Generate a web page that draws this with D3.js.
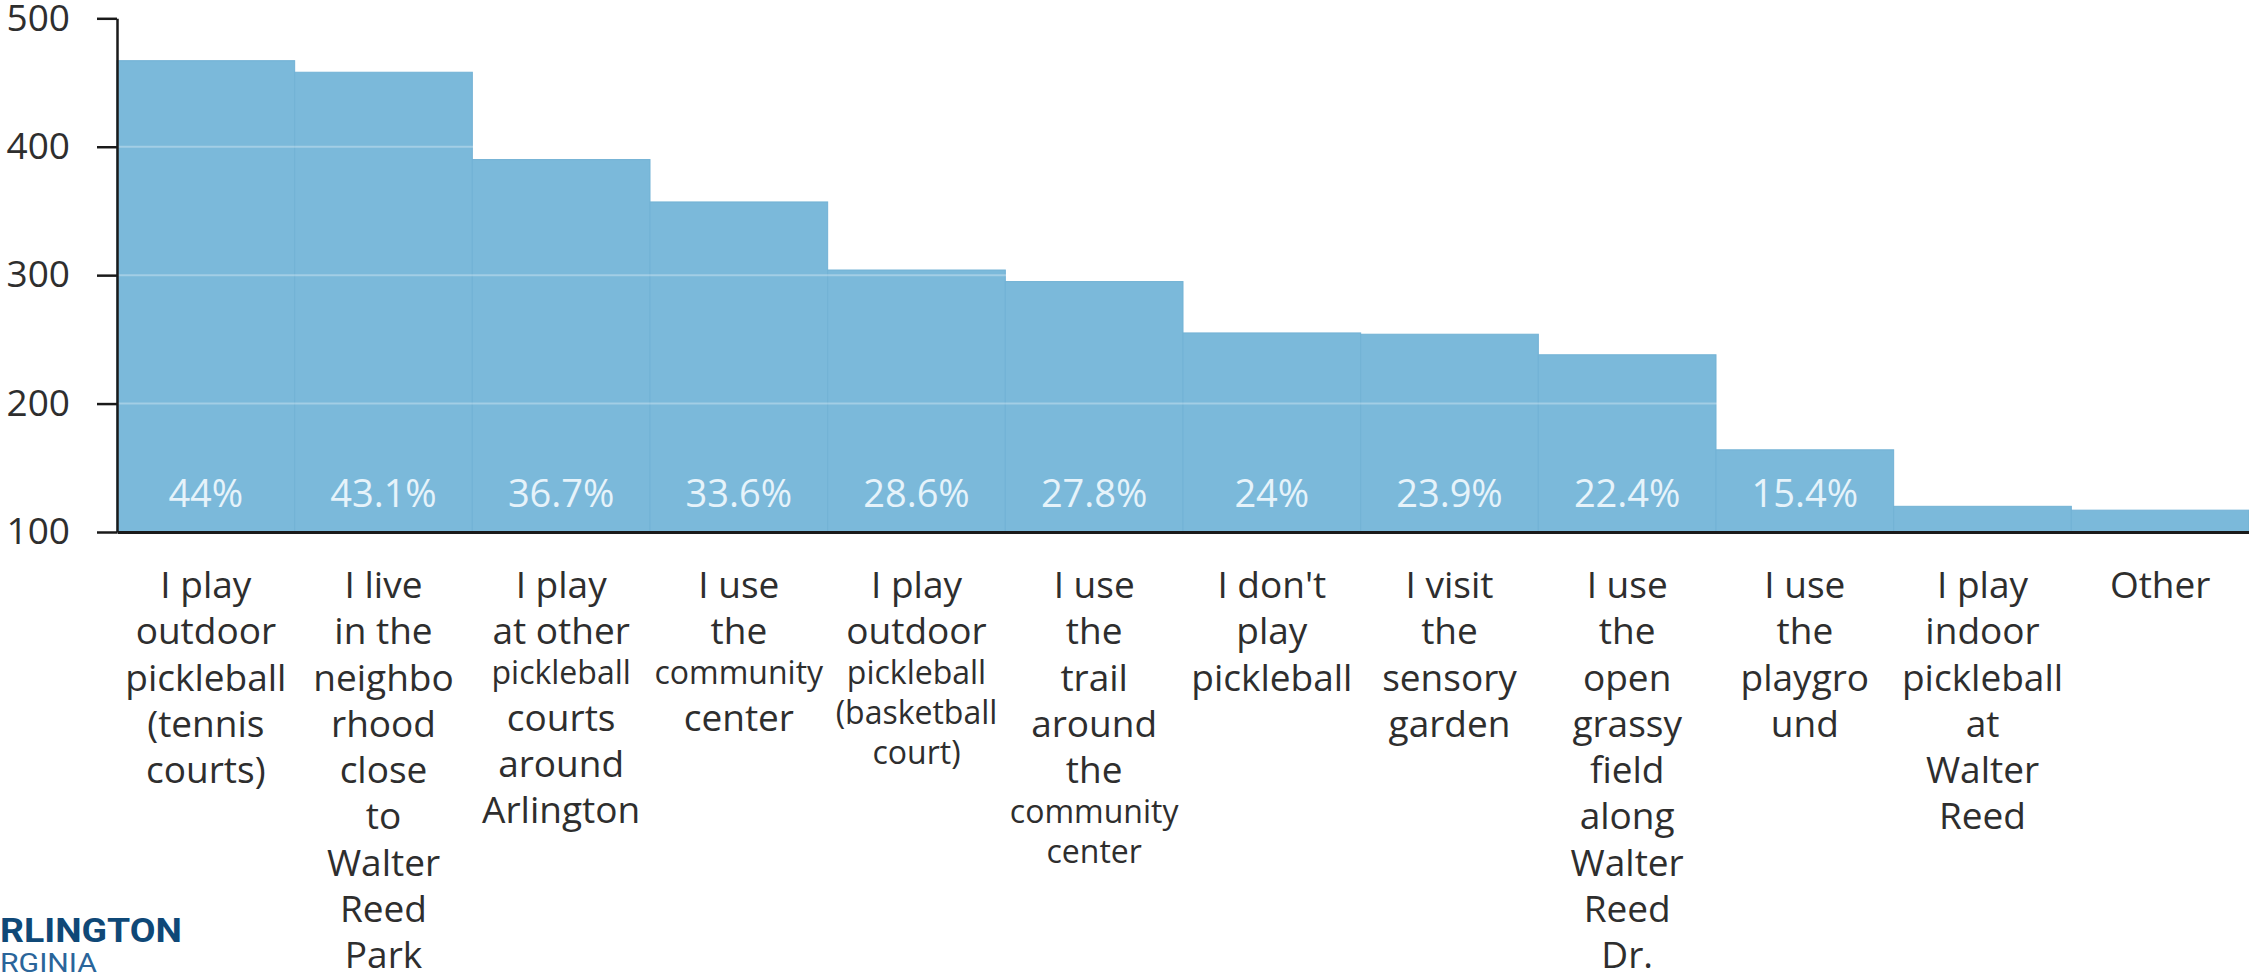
<!DOCTYPE html>
<html>
<head>
<meta charset="utf-8">
<script src="https://cdn.jsdelivr.net/npm/d3@7"></script>
<style>
  body { margin: 0; background: #fff; overflow: hidden; }
  svg text { font-family: "Open Sans", sans-serif; }
</style>
</head>
<body>
<div class="chart"></div>
<script>
// survey answers, in the order of the bars
const categories = [
  "I play outdoor pickleball (tennis courts)",
  "I live in the neighborhood close to Walter Reed Park",
  "I play at other pickleball courts around Arlington",
  "I use the community center",
  "I play outdoor pickleball (basketball court)",
  "I use the trail around the community center",
  "I don't play pickleball",
  "I visit the sensory garden",
  "I use the open grassy field along Walter Reed Dr.",
  "I use the playground",
  "I play indoor pickleball at Walter Reed",
  "Other"
];

// how each answer is broken over lines under the axis
const labelLines = [
  ["I play", "outdoor", "pickleball", "(tennis", "courts)"],
  ["I live", "in the", "neighbo", "rhood", "close", "to", "Walter", "Reed", "Park"],
  ["I play", "at other", "pickleball", "courts", "around", "Arlington"],
  ["I use", "the", "community", "center"],
  ["I play", "outdoor", "pickleball", "(basketball", "court)"],
  ["I use", "the", "trail", "around", "the", "community", "center"],
  ["I don't", "play", "pickleball"],
  ["I visit", "the", "sensory", "garden"],
  ["I use", "the", "open", "grassy", "field", "along", "Walter", "Reed", "Dr."],
  ["I use", "the", "playgro", "und"],
  ["I play", "indoor", "pickleball", "at", "Walter", "Reed"],
  ["Other"]
];

// number of responses
const responses = [467, 458, 390, 357, 304, 295, 255, 254, 238, 164, 120, 117];

// share labels printed inside the bars
const percents = ["44%", "43.1%", "36.7%", "33.6%", "28.6%", "27.8%", "24%", "23.9%", "22.4%", "15.4%", "", ""];

const yTicks = [100, 200, 300, 400, 500];
const gridTicks = [200, 300, 400];

// set up svg
const width = 2249;
const height = 977;

const svg = d3.select('.chart')
  .append('svg')
  .attr('width', width)
  .attr('height', height);

// scales
const x = d3.scaleBand()
  .domain(categories)
  .range([117, width])
  .padding(0);

const y = d3.scaleLinear()
  .domain([100, 500])
  .range([532, 18.3]);

// bars
svg.selectAll('rect.bar')
  .data(categories)
  .enter()
  .append('rect')
  .attr('class', 'bar')
  .attr('x', d => x(d))
  .attr('y', (d, i) => y(responses[i]))
  .attr('width', x.bandwidth())
  .attr('height', (d, i) => y(100) - y(responses[i]))
  .style('fill', '#7bb9da')
  .style('stroke', '#72b2d5')
  .style('stroke-width', 1);

// faint gridlines over the bars
svg.selectAll('line.grid')
  .data(gridTicks)
  .enter()
  .append('line')
  .attr('class', 'grid')
  .attr('x1', 117)
  .attr('x2', width)
  .attr('y1', d => y(d))
  .attr('y2', d => y(d))
  .style('stroke', '#ffffff')
  .style('stroke-opacity', 0.3)
  .style('stroke-width', 2);

// percentage labels near the bottom of each bar
svg.selectAll('text.pct')
  .data(categories)
  .enter()
  .append('text')
  .attr('class', 'pct')
  .attr('x', d => x(d) + x.bandwidth() / 2)
  .attr('y', 507)
  .attr('text-anchor', 'middle')
  .attr('font-size', 38)
  .style('fill', '#e6f3fa')
  .text((d, i) => percents[i]);

// y axis
const yAxis = svg.append('g')
  .attr('transform', 'translate(117,0)')
  .call(d3.axisLeft(y).tickValues(yTicks).tickSize(20).tickPadding(27).tickSizeOuter(0));

yAxis.select('.domain').style('stroke', '#1a1a1a').style('stroke-width', 2.5);
yAxis.selectAll('.tick line').style('stroke', '#1a1a1a').style('stroke-width', 2.5);
yAxis.selectAll('.tick text')
  .attr('font-size', 37)
  .attr('font-family', '"Open Sans", sans-serif')
  .style('fill', '#2e2e2e');

// x axis (baseline at 100) with wrapped labels
const xAxis = svg.append('g')
  .attr('transform', 'translate(0,' + y(100) + ')')
  .call(d3.axisBottom(x).tickSize(0).tickSizeOuter(0));

xAxis.select('.domain').style('stroke', '#1a1a1a').style('stroke-width', 3);

// some words were squeezed in the original: column index -> line indexes
const squeezed = {2: [2], 3: [2], 4: [2, 3, 4], 5: [5, 6]};

xAxis.selectAll('.tick text')
  .attr('font-size', null)
  .attr('font-family', '"Open Sans", sans-serif')
  .attr('y', 0)
  .attr('dy', null)
  .style('fill', '#2e2e2e')
  .text(null)
  .each(function (d, i) {
    let base = 66;
    labelLines[i].forEach((line, j) => {
      const small = squeezed[i] && squeezed[i].includes(j);
      const size = small ? 32 : 37;
      if (j > 0) base += size * 1.25;
      d3.select(this).append('tspan')
        .attr('x', 0)
        .attr('y', base)
        .attr('font-size', size)
        .text(line);
    });
  });

// cropped county logo at bottom left
svg.append('text')
  .attr('x', 0)
  .attr('y', 942)
  .attr('font-size', 33)
  .attr('font-weight', 'bold')
  .attr('textLength', 182)
  .attr('lengthAdjust', 'spacingAndGlyphs')
  .style('font-family', 'Roboto, sans-serif')
  .style('fill', '#0f4877')
  .text('RLINGTON');

svg.append('text')
  .attr('x', 0)
  .attr('y', 972)
  .attr('font-size', 26)
  .attr('textLength', 97)
  .attr('lengthAdjust', 'spacingAndGlyphs')
  .style('font-family', 'Roboto, sans-serif')
  .style('fill', '#2a659a')
  .text('RGINIA');
</script>
</body>
</html>
